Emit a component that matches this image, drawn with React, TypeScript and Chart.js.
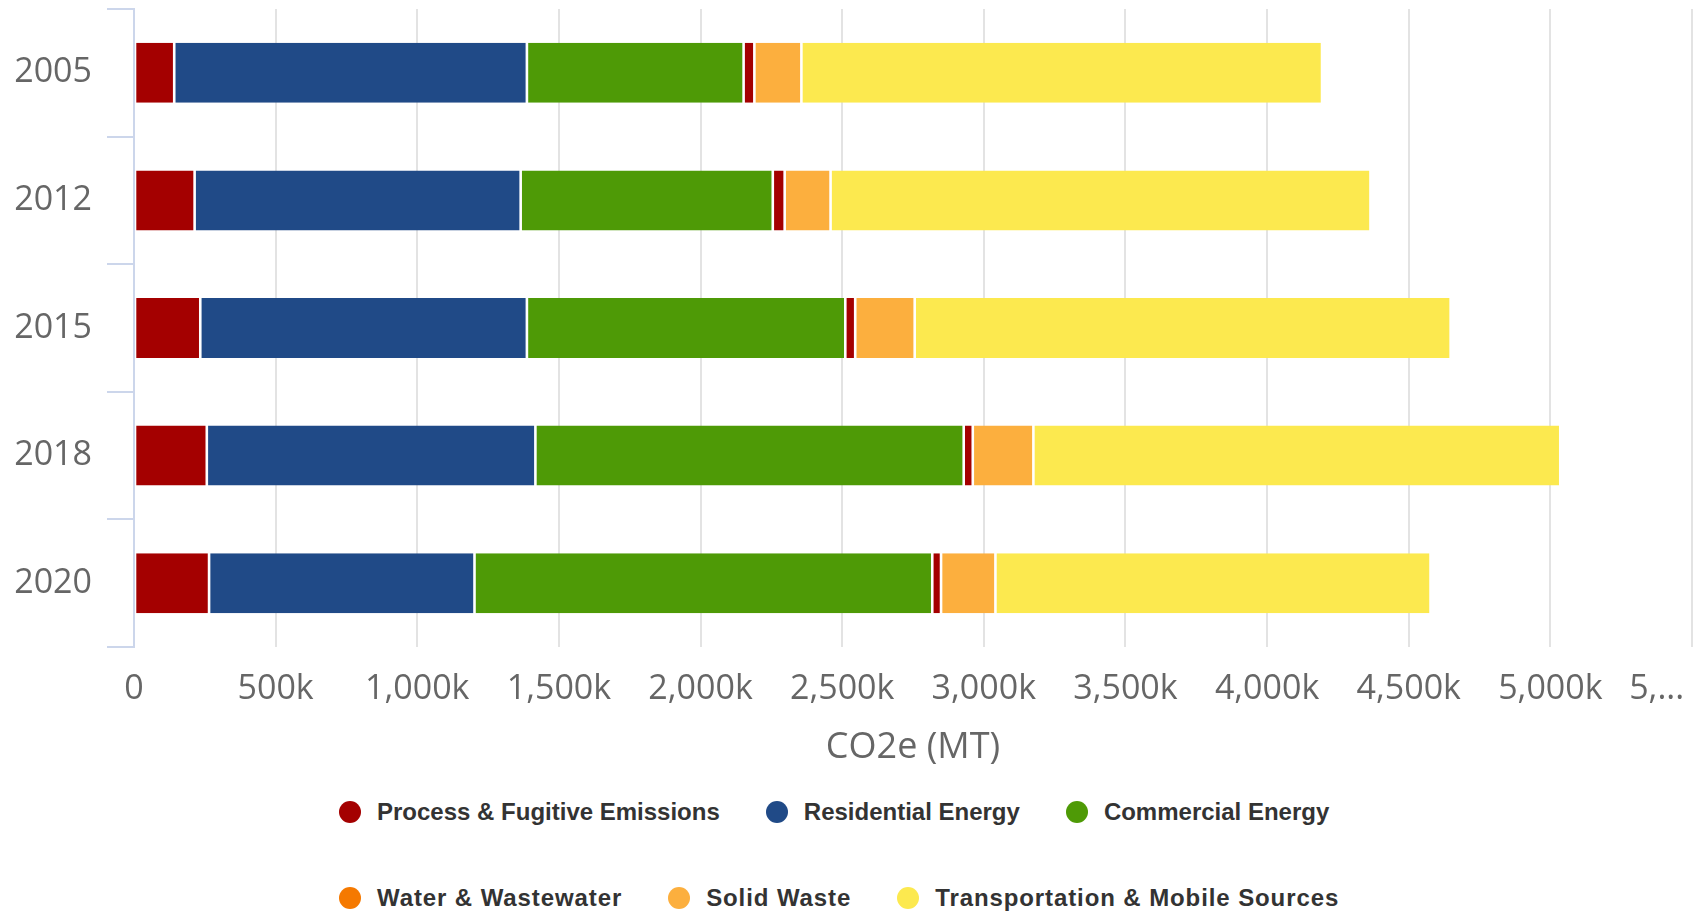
import React, { useEffect, useRef } from "react";
import { Chart, registerables } from "chart.js";

Chart.register(...registerables);

// Emission inventory years
const years = ["2005", "2012", "2015", "2018", "2020"];

// CO2e (metric tons) by sector
const processFugitive = [142000, 214000, 234000, 257000, 265000];
const residentialEnergy = [1245000, 1151000, 1153000, 1160000, 937000];
const commercialEnergy = [765000, 890000, 1124000, 1512000, 1616000];
const waterWastewater = [38000, 42000, 35000, 32000, 31000];
const solidWaste = [166000, 162000, 210000, 214000, 192000];
const transportation = [1838000, 1906000, 1892000, 1860000, 1536000];

const seriesNames = [
  "Process & Fugitive Emissions",
  "Residential Energy",
  "Commercial Energy",
  "Water & Wastewater",
  "Solid Waste",
  "Transportation & Mobile Sources",
];
const seriesValues = [
  processFugitive,
  residentialEnergy,
  commercialEnergy,
  waterWastewater,
  solidWaste,
  transportation,
];
const barColors = ["#a40000", "#204a87", "#4e9a06", "#a40000", "#fcaf3e", "#fce94f"];
const legendColors = ["#a40000", "#204a87", "#4e9a06", "#f57900", "#fcaf3e", "#fce94f"];

const xMax = 5500000;
const xStep = 500000;
const xTitle = "CO2e (MT)";

const W = 1697;
const H = 912;
const CANVAS_H = 775;
const TICK_FONT = "'Open Sans', 'Liberation Sans', sans-serif";

function formatTick(v: number): string {
  if (v === 0) return "0";
  if (v >= xMax) return "5,..." + " ".repeat(8);
  return (v / 1000).toLocaleString("en-US") + "k";
}

// Legend laid out in two rows of three entries
const legendRows = [
  { items: [0, 1, 2], letterSpacing: 0 },
  { items: [3, 4, 5], letterSpacing: 0.9 },
];

function Legend() {
  return (
    <div style={{ position: "absolute", left: 339, top: 797 }}>
      {legendRows.map((row, ri) => (
        <div
          key={ri}
          style={{
            display: "flex",
            alignItems: "center",
            height: 30,
            marginBottom: ri === 0 ? 56 : 0,
            whiteSpace: "nowrap",
          }}
        >
          {row.items.map((i) => (
            <div
              key={i}
              style={{
                display: "flex",
                alignItems: "center",
                marginRight: 46,
              }}
            >
              <span
                style={{
                  display: "inline-block",
                  width: 22,
                  height: 22,
                  borderRadius: "50%",
                  background: legendColors[i],
                  marginRight: 16,
                }}
              />
              <span
                style={{
                  fontFamily: "'Liberation Sans', Arial, sans-serif",
                  fontWeight: 700,
                  fontSize: 24,
                  lineHeight: "30px",
                  letterSpacing: row.letterSpacing,
                  color: "#333333",
                }}
              >
                {seriesNames[i]}
              </span>
            </div>
          ))}
        </div>
      ))}
    </div>
  );
}

export default function App() {
  const canvasRef = useRef<HTMLCanvasElement | null>(null);

  useEffect(() => {
    const canvas = canvasRef.current;
    if (!canvas) return;
    const chart = new Chart(canvas, {
      type: "bar",
      data: {
        labels: years,
        datasets: seriesNames.map((name, i) => ({
          label: name,
          data: seriesValues[i],
          backgroundColor: barColors[i],
          borderColor: "#ffffff",
          borderWidth: { left: 1.3, right: 1.3, top: 0, bottom: 0 },
          borderSkipped: false,
          barPercentage: 0.47,
          categoryPercentage: 1,
        })),
      },
      options: {
        indexAxis: "y",
        animation: false,
        responsive: false,
        devicePixelRatio: 1,
        layout: { padding: { top: 9, right: 5, bottom: 6, left: 0 } },
        plugins: {
          legend: { display: false },
          tooltip: { enabled: false },
        },
        scales: {
          x: {
            type: "linear",
            stacked: true,
            min: 0,
            max: xMax,
            border: { display: false },
            grid: {
              color: "#e3e3e3",
              lineWidth: 2,
              drawTicks: false,
            },
            ticks: {
              stepSize: xStep,
              autoSkip: false,
              maxRotation: 0,
              padding: 22,
              color: "#666666",
              font: { family: TICK_FONT, size: 34 },
              callback: (v: any) => formatTick(Number(v)),
            },
            title: {
              display: true,
              text: xTitle,
              color: "#666666",
              font: { family: TICK_FONT, size: 36 },
              padding: { top: 16, bottom: 0 },
            },
            afterFit: (scale: any) => {
              scale.paddingLeft = 0;
              scale.paddingRight = 0;
              scale.height = 122;
            },
          },
          y: {
            type: "category",
            stacked: true,
            border: { display: true, color: "#ccd6eb", width: 2 },
            grid: {
              offset: true,
              drawOnChartArea: false,
              drawTicks: true,
              tickLength: 27,
              color: "#ccd6eb",
              lineWidth: 2,
            },
            ticks: {
              padding: 15,
              color: "#666666",
              font: { family: TICK_FONT, size: 34 },
            },
            afterFit: (scale: any) => {
              scale.width = 134;
              scale.paddingTop = 0;
              scale.paddingBottom = 0;
            },
          },
        },
      },
    });
    return () => chart.destroy();
  }, []);

  return (
    <div
      style={{
        position: "fixed",
        left: 0,
        top: 0,
        width: W,
        height: H,
        background: "#ffffff",
        overflow: "hidden",
      }}
    >
      <canvas
        ref={canvasRef}
        width={W}
        height={CANVAS_H}
        style={{ position: "absolute", left: 0, top: 0, width: W, height: CANVAS_H }}
      />
      <Legend />
    </div>
  );
}
